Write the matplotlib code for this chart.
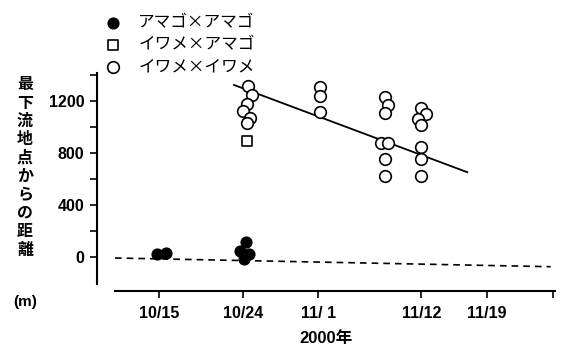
import matplotlib
matplotlib.use("Agg")
import matplotlib.pyplot as plt

plt.rcParams['font.family'] = ['Liberation Sans', 'Noto Sans CJK JP', 'DejaVu Sans']

# days counted from 10/15
tick_days = [0, 9, 17, 28, 35, 42]
tick_labels = ["10/15", "10/24", "11/ 1", "11/12", "11/19", ""]

# アマゴ×アマゴ (filled)
ama_x = [-0.2, 0.7, 9.3, 8.6, 9.6, 9.1]
ama_y = [20, 33, 115, 46, 25, -12]

# イワメ×アマゴ (square)
hyb_x = [9.35]
hyb_y = [890]

# イワメ×イワメ (open)
iwa_x = [9.5, 9.9, 9.4, 9.0, 9.7, 9.4,
         17.2, 17.2, 17.2,
         24.1, 24.4, 24.1, 23.7, 24.4, 24.1, 24.1,
         28.0, 28.5, 27.6, 28.0, 28.0, 28.0, 28.0]
iwa_y = [1315, 1246, 1177, 1123, 1069, 1031,
         1310, 1240, 1115,
         1233, 1172, 1108, 879, 879, 752, 625,
         1149, 1100, 1059, 1015, 844, 752, 623]

# fitted lines
fit_iwa_x = [8.0, 32.9]
fit_iwa_y = [1323, 652]
fit_ama_x = [-4.7, 41.8]
fit_ama_y = [-8, -75]

fig = plt.figure(figsize=(5.63, 3.48), dpi=100)
ax = fig.add_axes([97/563, 1-284/348, (556-97)/563, (284-73)/348])

ax.plot(fit_iwa_x, fit_iwa_y, color='black', lw=1.3)
ax.plot(fit_ama_x, fit_ama_y, color='black', lw=1.2, ls=(0, (4, 3)))

ax.scatter(ama_x, ama_y, s=60, c='black', edgecolors='black', zorder=3, label="アマゴ×アマゴ")
ax.scatter(hyb_x, hyb_y, s=60, marker='s', facecolors='white', edgecolors='black',
           linewidths=1.2, zorder=3, label="イワメ×アマゴ")
ax.scatter(iwa_x, iwa_y, s=70, facecolors='white', edgecolors='black',
           linewidths=1.2, zorder=3, label="イワメ×イワメ")

ax.set_xlim(-6.62, 42.37)
ax.set_ylim(-208, 1415)

ax.spines['top'].set_visible(False)
ax.spines['right'].set_visible(False)
ax.spines['left'].set_linewidth(1.5)
ax.spines['bottom'].set_linewidth(1.5)
ax.spines['bottom'].set_position(('outward', 5))
ax.spines['bottom'].set_bounds(-4.7, 42.3)

ax.set_yticks([0, 400, 800, 1200])
ax.set_yticks([200, 600, 1000, 1400], minor=True)
ax.set_xticks(tick_days)
ax.set_xticklabels(tick_labels)
ax.tick_params(axis='both', which='both', direction='out', length=5, width=1.2)
ax.tick_params(axis='both', labelsize=11.5)
for t in ax.get_xticklabels() + ax.get_yticklabels():
    t.set_fontweight('bold')
ax.tick_params(axis='y', pad=4)
ax.tick_params(axis='x', pad=6)

ax.set_xlabel("2000年", fontsize=12, fontweight='bold', labelpad=7)

ylab = "最下流地点からの距離"
fig.text(25/563, 1-167/348, "\n".join(ylab), fontsize=11.5, fontweight='bold',
         family=['Noto Sans CJK JP'], ha='center', va='center', linespacing=1.18)
fig.text(25/563, 1-302/348, "(m)", fontsize=11, fontweight='bold', ha='center', va='center')

fig.legend(loc='upper left', bbox_to_anchor=(95/563, 1-6/348), frameon=False,
           prop={'family': ['Noto Sans CJK JP'], 'size': 12},
           handletextpad=0.9, labelspacing=0.3, borderpad=0, handlelength=1.2)

fig.savefig("out.png", dpi=100)
